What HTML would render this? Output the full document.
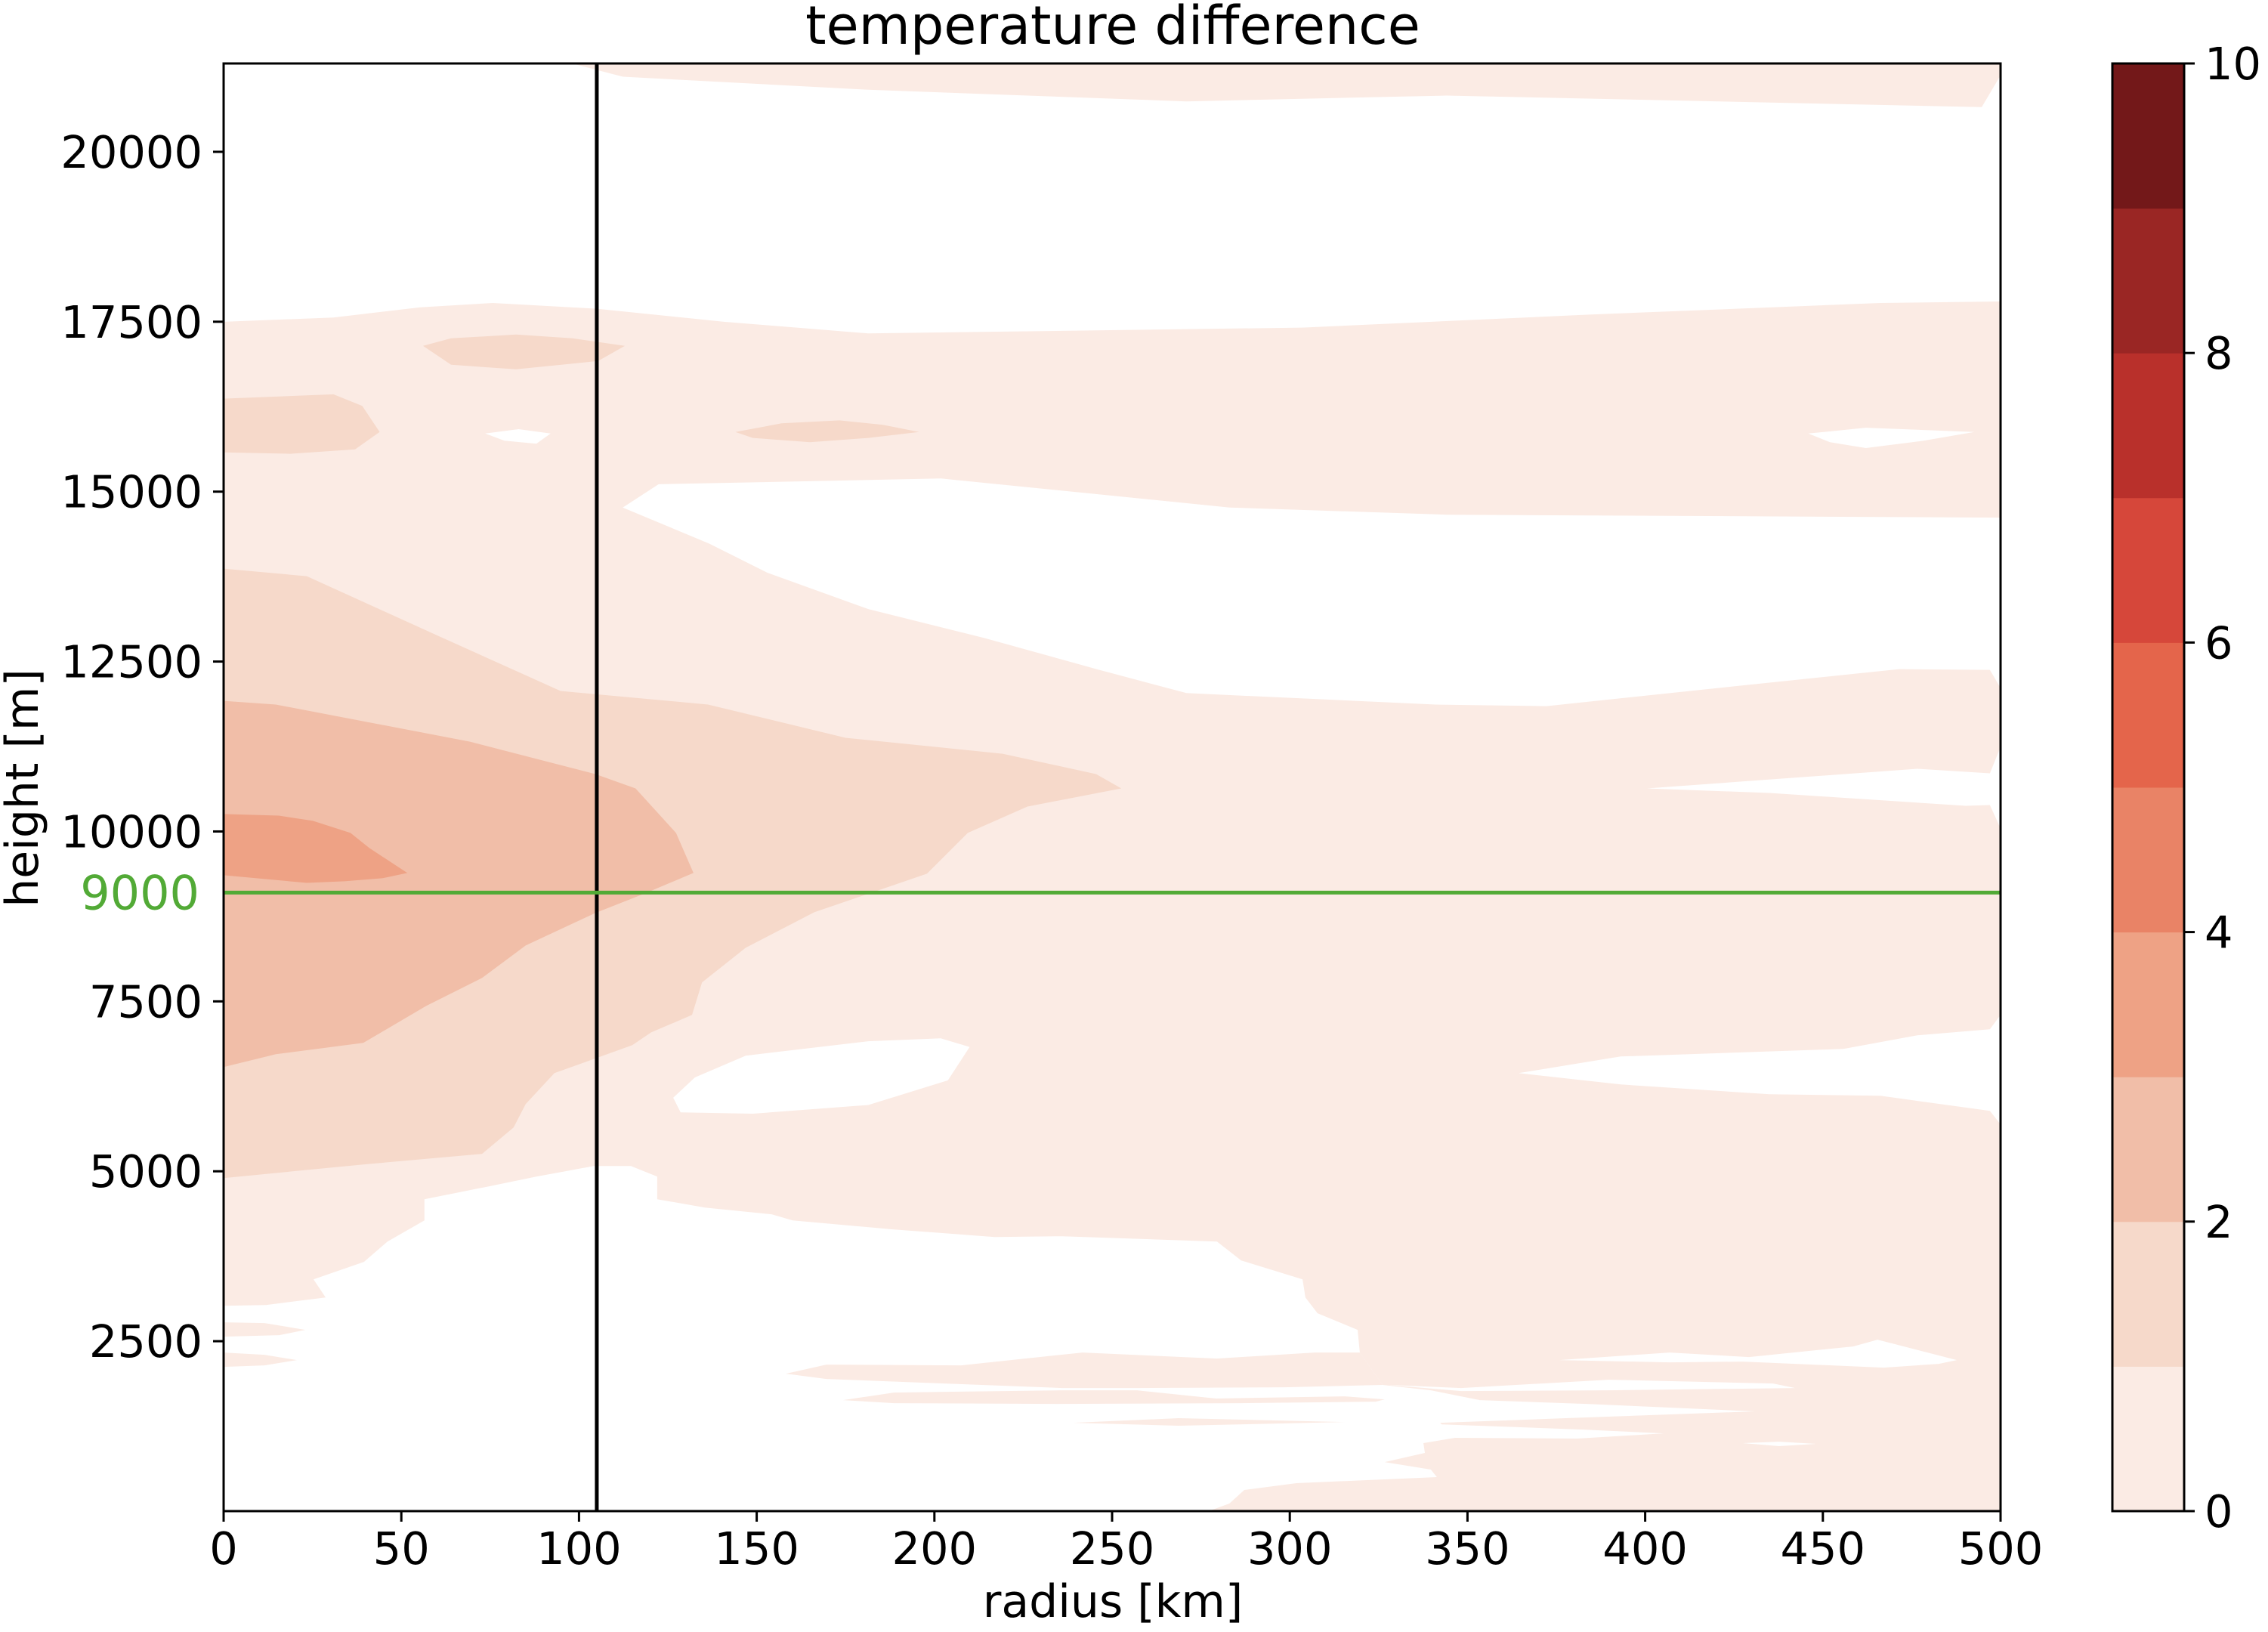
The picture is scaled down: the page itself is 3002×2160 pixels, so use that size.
<!DOCTYPE html>
<html><head><meta charset="utf-8"><title>temperature difference</title>
<style>html,body{margin:0;padding:0;background:#fff}svg{display:block;font-family:"DejaVu Sans","Liberation Sans",sans-serif}</style>
</head><body>
<svg id="chart" xmlns="http://www.w3.org/2000/svg" width="3002" height="2160" viewBox="0 0 3002 2160">
<text x="1473" y="58" font-size="70" text-anchor="middle">temperature difference</text>
<text x="1473" y="2140" font-size="60" text-anchor="middle">radius [km]</text>
<text transform="translate(50,1043) rotate(-90)" font-size="60" text-anchor="middle">height [m]</text>
<g id="plot"></g>
<g id="axes"></g>
<g id="cbar"></g>
</svg>
<script>
const levelColors = ["#fbebe4","#f6d9ca","#f1bea8","#eea285","#e98366","#e4654b","#d6473a","#b9302b","#9a2624","#731819"];
const levelBounds = [0,1,2,3,4,5,6,7,8,9,10];
const xTicks = [0,50,100,150,200,250,300,350,400,450,500];
const yTicks = [2500,5000,7500,10000,12500,15000,17500,20000];
const cbarTicks = [0,2,4,6,8,10];
const xDomain = [0,500];
const yDomain = [0,21300];
const markerRadius = 105;
const markerHeight = 9100;
const markerLabel = "9000";
const whiteTop = [[0,21300],[98,21300],[112.3,21105],[181.4,20913],[270.9,20742],[344.1,20828],[494.7,20657],[500,21127],[500,17798],[466.2,17776],[384.8,17606],[303.5,17413],[181.4,17328],[140.8,17499],[105,17691],[75.7,17776],[55.3,17712],[30.9,17563],[0,17499]];
const whiteMid = [[112.3,14767],[122.4,15109],[201.8,15194],[283.1,14767],[344.1,14661],[500,14618],[500,12111],[497,12378],[471.5,12389],[424.5,12133],[372.2,11844],[341,11867],[270.9,12036],[246.5,12377],[214,12847],[181.4,13273],[153,13807],[136.7,14234]];
const holeA = [[73.6,15855],[83,15919],[92,15855],[88,15706],[79,15749]];
const holeB = [[445.9,15855],[462.1,15941],[492.6,15877],[478.4,15749],[462.1,15642],[452,15727]];
const wedgeA = [[400.5,10633],[476.6,10922],[497,10856],[500,11244],[500,10044],[497,10389],[490.2,10378],[435,10567]];
const holeC = [[132.6,6381],[146.9,6701],[181.4,6914],[201.8,6957],[209.9,6829],[203.8,6338],[181.4,5975],[148.9,5847],[128.6,5868],[126.5,6082]];
const wedgeB = [[364.4,6444],[393.1,6689],[455.8,6800],[476.6,7000],[497,7089],[500,7300],[500,5689],[497,5889],[466.2,6111],[435,6133],[393.1,6278]];
const whiteBottom = [[0,3022],[11.9,3033],[28.7,3144],[25.3,3411],[39.5,3667],[46.1,3967],[56.5,4278],[56.5,4589],[74.6,4778],[88,4922],[104.2,5078],[114.6,5078],[122,4922],[122,4589],[135.4,4467],[154.3,4367],[160.1,4278],[188.6,4144],[217,4033],[236,4044],[279.5,3967],[286.3,3689],[303.6,3411],[304.4,3144],[307.8,2911],[319.1,2667],[319.7,2333],[326.1,1856],[339.7,1778],[353.5,1633],[351.8,1367],[342.3,1300],[346.5,1078],[337.6,1000],[338,856],[326.7,722],[339.7,611],[341.4,500],[301.9,411],[287.2,311],[283,111],[277.2,0],[0,0]];
const stripe1 = [[0,2778],[11.5,2767],[23,2667],[15.7,2589],[0,2567]];
const stripe2 = [[0,2333],[11.5,2300],[20.6,2222],[11.5,2144],[0,2122]];
const stripe3 = [[158.2,2022],[169.6,2156],[207.5,2144],[241.7,2333],[279.5,2244],[307,2333],[319.7,2333],[326.1,1856],[298.5,1822],[257,1811],[236,1811],[202.8,1878],[169.6,1944]];
const stripe4 = [[174.3,1633],[188.6,1744],[236,1778],[257,1778],[279.3,1656],[315.5,1689],[326.7,1644],[324.2,1611],[286.3,1589],[234.7,1578],[188.6,1589]];
const stripe5 = [[239,1300],[268.7,1367],[315.5,1311],[268.7,1256]];
const lensR0 = [[327.6,1856],[348.2,1811],[389.7,1933],[436,1878],[442.2,1811],[389.7,1778],[348.2,1767]];
const lensR1 = [[353.5,1633],[383.5,1578],[430.9,1467],[383.5,1378],[342.3,1300],[351.8,1444]];
const lensR2 = [[341,1278],[382.7,1200],[405.2,1144],[380.9,1067],[346.5,1078]];
const lensR3 = [[375.9,2222],[406.9,2333],[429.2,2267],[458.5,2422],[465.4,2522],[487.7,2222],[482.6,2167],[467.1,2111],[427.5,2200],[406.9,2189]];
const lensR4 = [[427.5,1000],[437.7,1022],[448.1,989],[437.7,956]];
const lvl1a = [[56.1,17144],[64,17256],[82.3,17311],[98.2,17256],[112.9,17144],[105.4,16922],[82.3,16800],[64,16867]];
const lvl1b = [[0,16368],[30.9,16432],[39,16262],[43.9,15877],[37,15621],[18.7,15557],[0,15578]];
const lvl1c = [[144,15877],[157,16005],[173.3,16048],[185.5,15984],[195.7,15877],[181.4,15791],[165,15727],[148.9,15791]];
const lvl1d = [[0,13867],[23.4,13756],[60.4,12878],[94.8,12067],[136.3,11867],[175,11378],[219.2,11144],[245.5,10844],[252.6,10633],[226.2,10367],[209.4,9978],[197.9,9378],[166.2,8811],[146.9,8289],[134.6,7778],[131.8,7300],[120.3,7044],[115,6856],[93.1,6444],[85,5989],[81.6,5644],[72.7,5256],[39.3,5100],[0,4900]];
const lvl2 = [[0,11922],[14.7,11867],[69.3,11322],[104.6,10844],[115.9,10633],[127.3,9978],[132.2,9389],[118.6,9089],[104.6,8800],[85,8322],[72.7,7844],[57,7433],[39.3,6889],[14.7,6722],[0,6533]];
const lvl3 = [[0,10256],[15.5,10233],[25.1,10156],[35.7,9978],[41,9756],[51.7,9389],[44.6,9311],[34,9267],[23.4,9244],[0,9356]];
const regions = [
  [-1,whiteTop],[-1,whiteMid],[-1,holeA],[-1,holeB],[-1,wedgeA],[-1,holeC],[-1,wedgeB],[-1,whiteBottom],
  [0,stripe1],[0,stripe2],[0,stripe3],[0,stripe4],[0,stripe5],
  [-1,lensR0],[-1,lensR1],[-1,lensR2],[-1,lensR3],[-1,lensR4],
  [1,lvl1a],[1,lvl1b],[1,lvl1c],[1,lvl1d],[2,lvl2],[3,lvl3]
];

const NS = "http://www.w3.org/2000/svg";
const PL = 296, PR = 2648, PT = 84, PB = 2000;
const xs = v => PL + (v - xDomain[0]) / (xDomain[1] - xDomain[0]) * (PR - PL);
const ys = v => PB - (v - yDomain[0]) / (yDomain[1] - yDomain[0]) * (PB - PT);
function mk(tag, attrs, parent){ const e = document.createElementNS(NS, tag); for (const k in attrs) e.setAttribute(k, attrs[k]); parent.appendChild(e); return e; }
const plot = document.getElementById('plot');
const axes = document.getElementById('axes');
const cbar = document.getElementById('cbar');

const clip = mk('clipPath', {id:'pclip'}, mk('defs', {}, plot));
mk('rect', {x:PL, y:PT, width:PR-PL, height:PB-PT}, clip);
const g = mk('g', {'clip-path':'url(#pclip)'}, plot);
const base = mk('rect', {x:PL, y:PT, width:PR-PL, height:PB-PT, fill:levelColors[0]}, g);


regions.forEach((r, i) => {
  const pts = r[1].map(p => xs(p[0]).toFixed(1) + ',' + ys(p[1]).toFixed(1)).join(' ');
  const poly = mk('polygon', {points: pts, fill: r[0] < 0 ? '#ffffff' : levelColors[r[0]]}, g);
  
  
});
const vline = mk('line', {x1:xs(markerRadius), x2:xs(markerRadius), y1:PT, y2:PB, stroke:'#000', 'stroke-width':5}, plot);


const hline = mk('line', {x1:PL, x2:PR, y1:ys(markerHeight), y2:ys(markerHeight), stroke:'#52aa36', 'stroke-width':5}, plot);


const hlab = mk('text', {x:264, y:ys(markerHeight)+22, 'font-size':62, 'text-anchor':'end', fill:'#52aa36'}, plot);
hlab.textContent = markerLabel;



const frame = mk('rect', {x:PL, y:PT, width:PR-PL, height:PB-PT, fill:'none', stroke:'#000', 'stroke-width':3}, axes);


xTicks.forEach(t => {
  const tk = mk('line', {x1:xs(t), x2:xs(t), y1:PB, y2:PB+14, stroke:'#000', 'stroke-width':3}, axes);
  
  
  const tl = mk('text', {x:xs(t), y:2070, 'font-size':59, 'text-anchor':'middle'}, axes);
  tl.textContent = String(t);
  
  
});
yTicks.forEach(t => {
  const tk = mk('line', {x1:PL-14, x2:PL, y1:ys(t), y2:ys(t), stroke:'#000', 'stroke-width':3}, axes);
  
  
  const tl = mk('text', {x:268, y:ys(t)+21, 'font-size':59, 'text-anchor':'end'}, axes);
  tl.textContent = String(t);
  
  
});

const CL = 2796, CR = 2891, CT = 84, CB = 2000;
const cs = v => CB - (v - levelBounds[0]) / (levelBounds[levelBounds.length-1] - levelBounds[0]) * (CB - CT);
levelColors.forEach((c, i) => {
  const r = mk('rect', {x:CL, y:cs(levelBounds[i+1]), width:CR-CL, height:cs(levelBounds[i]) - cs(levelBounds[i+1]) + 0.5, fill:c}, cbar);
  
  
});
const cf = mk('rect', {x:CL, y:CT, width:CR-CL, height:CB-CT, fill:'none', stroke:'#000', 'stroke-width':3}, cbar);


cbarTicks.forEach(t => {
  const tk = mk('line', {x1:CR, x2:CR+14, y1:cs(t), y2:cs(t), stroke:'#000', 'stroke-width':3}, cbar);
  
  
  const tl = mk('text', {x:2918, y:cs(t)+21, 'font-size':59}, cbar);
  tl.textContent = String(t);
  
  
});
</script>
</body></html>
